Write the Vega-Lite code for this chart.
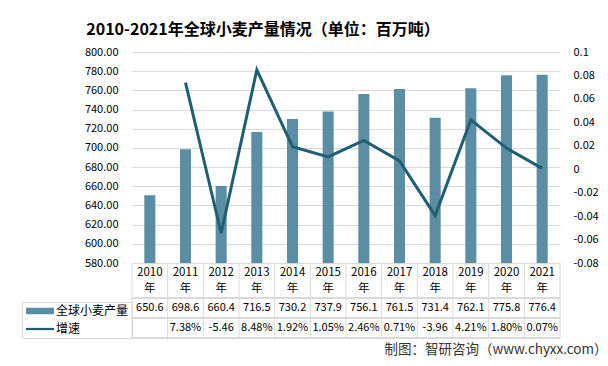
{
  "$schema": "https://vega.github.io/schema/vega-lite/v6.json",
  "autosize": {"type": "none"},
  "width": 428,
  "height": 286,
  "padding": {"left": 132, "top": 52, "right": 48, "bottom": 28},
  "background": "#ffffff",
  "config": {
    "font": "Noto Sans CJK SC",
    "view": {"stroke": null},
    "axis": {"labelColor": "#000000", "labelFont": "Noto Sans CJK SC"}
  },
  "title": {
    "text": "2010-2021年全球小麦产量情况（单位：百万吨）",
    "frame": "group",
    "anchor": "middle",
    "dx": -83,
    "offset": 8,
    "fontSize": 16,
    "fontWeight": "bold",
    "color": "#000000",
    "font": "Noto Sans CJK SC"
  },
  "data": {
    "values": [
      {"year": "2010", "prod": 650.6, "growth": null, "growthText": ""},
      {"year": "2011", "prod": 698.6, "growth": 0.0738, "growthText": "7.38%"},
      {"year": "2012", "prod": 660.4, "growth": -0.0546, "growthText": "-5.46"},
      {"year": "2013", "prod": 716.5, "growth": 0.0848, "growthText": "8.48%"},
      {"year": "2014", "prod": 730.2, "growth": 0.0192, "growthText": "1.92%"},
      {"year": "2015", "prod": 737.9, "growth": 0.0105, "growthText": "1.05%"},
      {"year": "2016", "prod": 756.1, "growth": 0.0246, "growthText": "2.46%"},
      {"year": "2017", "prod": 761.5, "growth": 0.0071, "growthText": "0.71%"},
      {"year": "2018", "prod": 731.4, "growth": -0.0396, "growthText": "-3.96"},
      {"year": "2019", "prod": 762.1, "growth": 0.0421, "growthText": "4.21%"},
      {"year": "2020", "prod": 775.8, "growth": 0.018, "growthText": "1.80%"},
      {"year": "2021", "prod": 776.4, "growth": 0.0007, "growthText": "0.07%"}
    ]
  },
  "resolve": {"scale": {"y": "independent"}, "axis": {"y": "independent"}},
  "layer": [
    {
      "mark": {"type": "bar", "width": {"band": 0.31}},
      "encoding": {
        "x": {
          "field": "year", "type": "ordinal",
          "scale": {"type": "band", "domain": ["2010","2011","2012","2013","2014","2015","2016","2017","2018","2019","2020","2021"], "paddingInner": 0, "paddingOuter": 0},
          "axis": {
            "offset": -75,
            "labelExpr": "[datum.label, '年']",
            "labelAngle": 0,
            "labelFontSize": 11.5,
            "labelLineHeight": 16,
            "labelPadding": 3,
            "labelColor": "#000000",
            "domain": false,
            "ticks": false,
            "grid": false,
            "title": "制图：智研咨询（www.chyxx.com）",
            "titleX": 475,
            "titleY": 86,
            "titleAlign": "right",
            "titleBaseline": "middle",
            "titleFontSize": 13.5,
            "titleFontWeight": "normal",
            "titleColor": "#333333",
            "titleFont": "Noto Sans CJK SC"
          }
        },
        "y": {
          "field": "prod", "type": "quantitative",
          "scale": {"domain": [580, 800], "range": [211, 0], "nice": false, "zero": false},
          "axis": {
            "orient": "left",
            "values": [580,600,620,640,660,680,700,720,740,760,780,800],
            "format": ".2f",
            "labelFontSize": 11,
            "labelPadding": 14,
            "domain": false,
            "ticks": false,
            "grid": true,
            "gridColor": "#d9d9d9",
            "gridWidth": 1,
            "title": null
          }
        },
        "y2": {"datum": 580},
        "color": {
          "datum": "全球小麦产量",
          "scale": {"domain": ["全球小麦产量", "增速"], "range": ["#5b8ea5", "#1f5f73"]},
          "legend": {
            "orient": "none",
            "legendX": -110,
            "legendY": 250,
            "title": null,
            "padding": 3,
            "symbolSize": 100,
            "symbolOffset": 9,
            "labelOffset": 10,
            "labelFontSize": 12,
            "labelColor": "#000000",
            "labelFont": "Noto Sans CJK SC",
            "rowPadding": 6,
            "encode": {
              "legend": {
                "update": {
                  "stroke": {"value": "#d9d9d9"},
                  "strokeWidth": {"value": 1}
                }
              },
              "symbols": {
                "update": {
                  "shape": {"signal": "datum.value === '增速' ? 'M-2.8,-0.22H2.8V0.22H-2.8Z' : 'M-2.8,-0.65H2.8V0.65H-2.8Z'"},
                  "fill": {"signal": "datum.value === '增速' ? '#1f5f73' : '#5b8ea5'"},
                  "stroke": {"value": "transparent"},
                  "strokeWidth": {"value": 0},
                  "opacity": {"value": 1}
                }
              }
            }
          }
        }
      }
    },
    {
      "mark": {"type": "line", "strokeWidth": 3},
      "encoding": {
        "x": {"field": "year", "type": "ordinal", "bandPosition": 0.5},
        "y": {
          "field": "growth", "type": "quantitative",
          "scale": {"domain": [-0.08, 0.1], "range": [211, 0], "nice": false, "zero": false},
          "axis": {
            "orient": "right",
            "values": [-0.08,-0.06,-0.04,-0.02,0,0.02,0.04,0.06,0.08,0.1],
            "labelExpr": "toString(datum.value)",
            "labelFontSize": 11,
            "labelPadding": 13,
            "domain": false,
            "ticks": false,
            "grid": false,
            "title": null
          }
        },
        "color": {"datum": "增速"}
      }
    },
    {
      "mark": {"type": "text", "fontSize": 11, "color": "#000000", "baseline": "middle", "align": "center"},
      "encoding": {
        "x": {"field": "year", "type": "ordinal", "bandPosition": 0.5},
        "y": {"datum": 1, "type": "quantitative", "scale": {"domain": [0.5, 2.5], "range": [246, 286], "nice": false, "zero": false}, "axis": null},
        "text": {"field": "prod", "type": "quantitative", "format": ".1f"}
      }
    },
    {
      "mark": {"type": "text", "fontSize": 11, "color": "#000000", "baseline": "middle", "align": "center"},
      "encoding": {
        "x": {"field": "year", "type": "ordinal", "bandPosition": 0.5},
        "y": {"datum": 2, "type": "quantitative", "scale": {"domain": [0.5, 2.5], "range": [246, 286], "nice": false, "zero": false}, "axis": null},
        "text": {"field": "growthText", "type": "nominal"}
      }
    },
    {
      "mark": {"type": "rule", "color": "#d9d9d9", "strokeWidth": 1},
      "encoding": {
        "x": {"field": "year", "type": "ordinal", "bandPosition": 0},
        "y": {"datum": -1.22, "type": "quantitative", "scale": {"domain": [0.5, 2.5], "range": [246, 286], "nice": false, "zero": false}, "axis": null},
        "y2": {"datum": 2.5}
      }
    },
    {
      "transform": [{"filter": "datum.year === '2021'"}],
      "mark": {"type": "rule", "color": "#d9d9d9", "strokeWidth": 1},
      "encoding": {
        "x": {"field": "year", "type": "ordinal", "bandPosition": 1},
        "y": {"datum": -1.22, "type": "quantitative", "scale": {"domain": [0.5, 2.5], "range": [246, 286], "nice": false, "zero": false}, "axis": null},
        "y2": {"datum": 2.5}
      }
    },
    {
      "mark": {"type": "rule", "color": "#d9d9d9", "strokeWidth": 1},
      "encoding": {
        "y": {"datum": 0.5, "type": "quantitative", "scale": {"domain": [0.5, 2.5], "range": [246, 286], "nice": false, "zero": false}, "axis": null}
      }
    },
    {
      "mark": {"type": "rule", "color": "#d9d9d9", "strokeWidth": 1},
      "encoding": {
        "y": {"datum": 1.5, "type": "quantitative", "scale": {"domain": [0.5, 2.5], "range": [246, 286], "nice": false, "zero": false}, "axis": null}
      }
    },
    {
      "mark": {"type": "rule", "color": "#d9d9d9", "strokeWidth": 1},
      "encoding": {
        "y": {"datum": 2.5, "type": "quantitative", "scale": {"domain": [0.5, 2.5], "range": [246, 286], "nice": false, "zero": false}, "axis": null}
      }
    }
  ]
}
